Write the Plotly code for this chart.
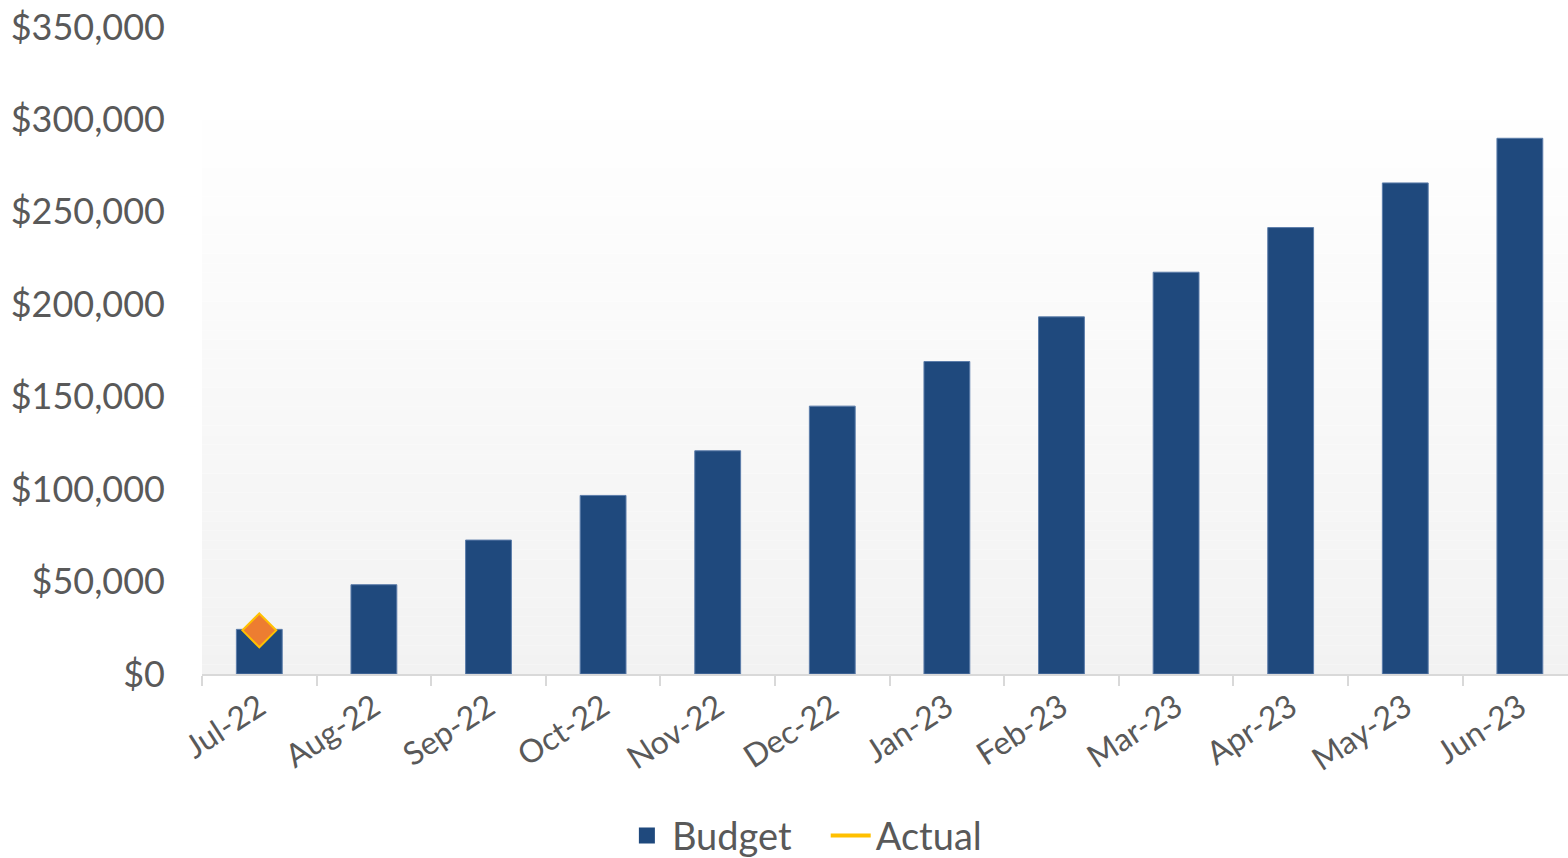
import plotly.graph_objects as go

months = ["Jul-22", "Aug-22", "Sep-22", "Oct-22", "Nov-22", "Dec-22",
          "Jan-23", "Feb-23", "Mar-23", "Apr-23", "May-23", "Jun-23"]
budget = [24150, 48300, 72450, 96600, 120750, 144900,
          169050, 193200, 217350, 241500, 265650, 289800]
actual_months = ["Jul-22"]
actual = [23600]

y_ticks = [0, 50000, 100000, 150000, 200000, 250000, 300000, 350000]
y_tick_labels = ["$0", "$50,000", "$100,000", "$150,000", "$200,000",
                 "$250,000", "$300,000", "$350,000"]

FONT = "Lato"
GREY = "#595959"
NAVY = "#1F497D"
GOLD = "#FFC000"

fig = go.Figure()
fig.add_trace(go.Bar(
    x=months, y=budget, name="Budget", showlegend=False,
    marker=dict(color=NAVY, line=dict(color="#5C7DAA", width=1)),
))
fig.add_trace(go.Scatter(
    x=actual_months, y=actual, name="Actual", mode="lines+markers",
    showlegend=False,
    line=dict(color=GOLD, width=4),
    marker=dict(symbol="diamond", size=26, color="#ED7D31",
                line=dict(color=GOLD, width=2)),
))
# legend-only entries (styled like the reference legend)
fig.add_trace(go.Scatter(
    x=[None], y=[None], name="Budget   ", mode="markers",
    marker=dict(symbol="square", size=16, color=NAVY),
))
fig.add_trace(go.Scatter(
    x=[None], y=[None], name="Actual", mode="lines",
    line=dict(color=GOLD, width=4),
))

# gradient plot-area background (white at top to light grey at bottom)
n = 60
top_val = 310000
shapes = []
for i in range(n):
    y0 = top_val * i / n
    y1 = top_val * (i + 1) / n
    t = (i + 0.5) / n  # 0 bottom -> 1 top
    c = round(242 + (255 - 242) * t)
    shapes.append(dict(type="rect", xref="paper", yref="y", x0=0, x1=1,
                       y0=y0, y1=y1, line=dict(width=0),
                       fillcolor=f"rgb({c},{c},{c})", layer="below"))

fig.update_layout(
    width=1568, height=858,
    paper_bgcolor="white", plot_bgcolor="rgba(0,0,0,0)",
    margin=dict(l=202, r=0, t=27, b=184, autoexpand=False),
    bargap=0.6,
    shapes=shapes,
    font=dict(family=FONT, color=GREY, size=34),
    legend=dict(orientation="h", xref="container", x=0.513, xanchor="center",
                yref="container", y=0.026, yanchor="middle",
                font=dict(size=38, color=GREY), itemwidth=40,
                tracegroupgap=0, bgcolor="rgba(0,0,0,0)"),
    showlegend=True,
)
fig.update_xaxes(
    range=[-0.5, 11.42], automargin=False,
    showline=True, linecolor="#D9D9D9", linewidth=2,
    ticks="outside", tickson="boundaries", ticklen=10, tickcolor="#D9D9D9",
    tickwidth=2, tickangle=-33, tickfont=dict(size=32, color=GREY, family=FONT),
    showgrid=False, zeroline=False,
)
fig.update_yaxes(
    range=[0, 350000], tickvals=y_ticks, ticktext=y_tick_labels,
    automargin=False,
    showgrid=False, zeroline=False, showline=False,
    ticklabelstandoff=36, ticklabeloverflow="allow",
    tickfont=dict(size=36, color=GREY, family=FONT),
)

fig.write_html(
    "out.html",
    config={"displayModeBar": False},
    post_script="document.body.style.margin='0';document.body.style.overflow='hidden';",
)
